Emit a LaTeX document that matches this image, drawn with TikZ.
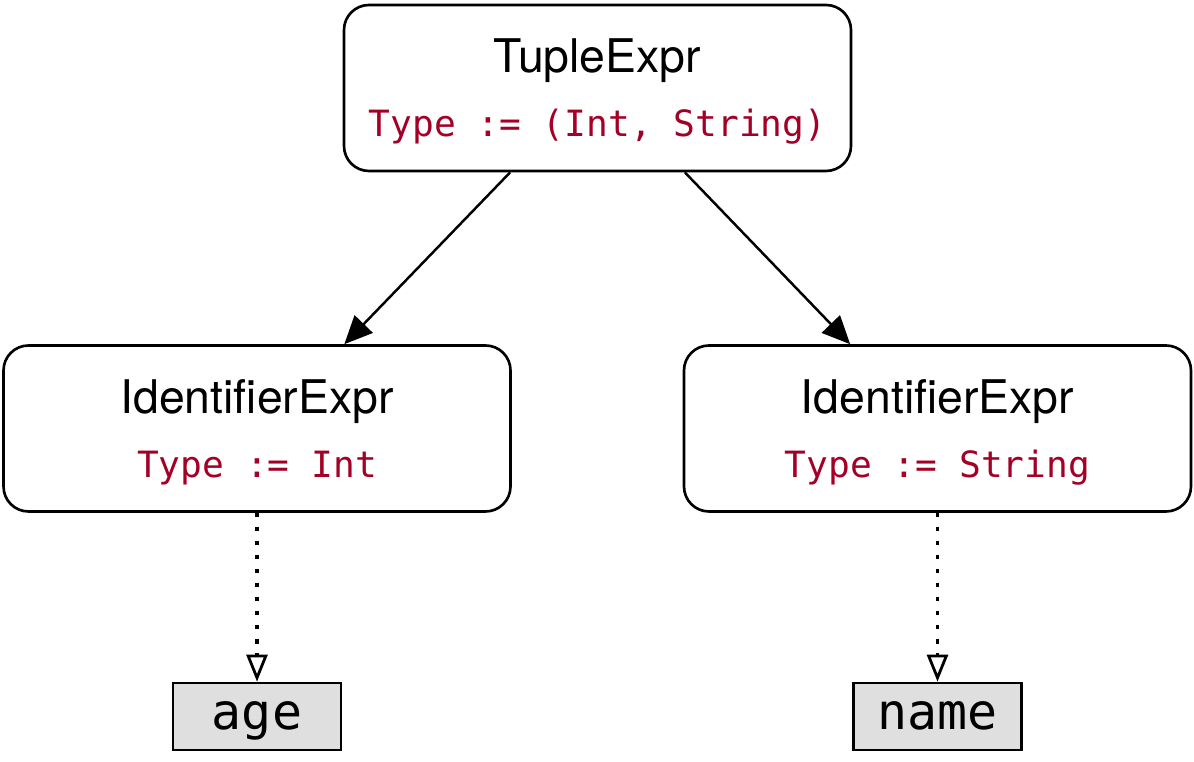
\documentclass[tikz,border=0pt]{standalone}
\usepackage{fontspec}
\setsansfont{TeX Gyre Heros}
\setmonofont{DejaVu Sans Mono}
\usepackage{xcolor}
\usepackage{tikz}
\usetikzlibrary{calc}
\usetikzlibrary{positioning}
\usetikzlibrary{arrows.meta}
\definecolor{typered}{RGB}{164,0,38}
\newcommand{\typeof}[1]{{\fontsize{10.3pt}{16.8pt}\selectfont\ttfamily\color{typered}#1}}
\tikzset{
  myarrow/.style={
    draw=black,
    line width=0.7pt,
    -{Triangle[length=2.8mm,width=2.5mm]},
  },
  mydotarrow/.style={
    draw=black,
    line width=1pt,
    dash pattern=on 1.2pt off 2.8pt,
    -{Triangle[open,length=2.7mm,width=2.1mm,line width=0.8pt]},
  },
  mybox/.style={
    draw=black,
    shape=rectangle,
    line width=0.75pt,
    rounded corners=0.25cm,
    align=center,
    minimum width=5.07cm,
    minimum height=1.66cm,
    text depth=-0.03cm,
    font=\fontsize{13.2pt}{16.8pt}\selectfont\sffamily
  },
  myleaf/.style={
    draw=black,
    fill=gray!25,
    shape=rectangle,
    line width=0.75pt,
    minimum width=1.68cm,
    minimum height=0.65cm,
    text height=1.0em,
    text depth=0.24em,
    font=\fontsize{14.2pt}{17pt}\selectfont\ttfamily
  },
}

\begin{document}
\begin{tikzpicture}
    \useasboundingbox (0, 0) rectangle (11.94, 7.62);

    \node [mybox] (TE) at (5.975, 6.74) {TupleExpr\\[1.4pt]\typeof{Type := (Int, String)}};

    \node [mybox] (IL) at (2.57, 3.335) {IdentifierExpr\\[1.4pt]\typeof{Type := Int}};
    \node [mybox] (IR) at (9.375, 3.335) {IdentifierExpr\\[1.4pt]\typeof{Type := String}};
    \draw [myarrow] (TE.224) -- (IL.44);
    \draw [myarrow] (TE.-44) -- (IR.136);

    \node [myleaf] (age) at (2.57, 0.455) {age};
    \node [myleaf] (name) at (9.375, 0.455) {name};
    \draw [mydotarrow] (IL.south) -- (age.north);
    \draw [mydotarrow] (IR.south) -- (name.north);

\end{tikzpicture}
\end{document}
